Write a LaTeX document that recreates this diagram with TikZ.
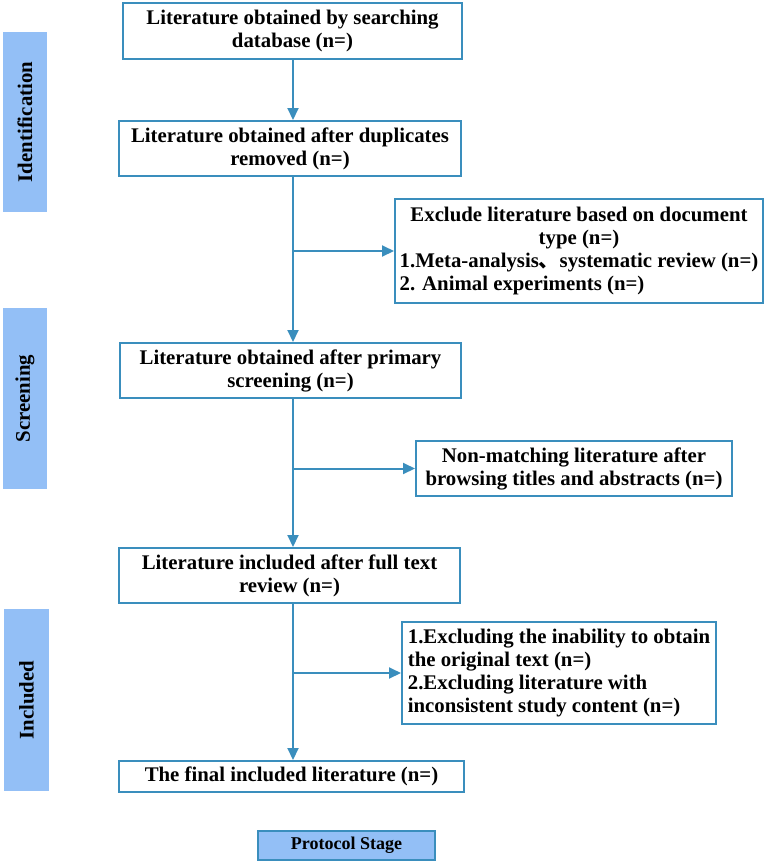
\documentclass[tikz,border=0pt]{standalone}
\usepackage{fontspec}
\setmainfont{Liberation Serif}
\newfontfamily\cjk{Noto Sans CJK SC}
\usetikzlibrary{arrows.meta}
\definecolor{lineblue}{HTML}{3A8EBD}
\definecolor{labelblue}{HTML}{93BFF6}
\begin{document}
\begin{tikzpicture}[x=1pt,y=-1pt,
  every node/.style={font=\fontsize{20.8}{23}\selectfont\bfseries, inner sep=3pt},
  box/.style={draw=lineblue, line width=2pt, fill=white, align=center},
  stagelabel/.style={fill=labelblue, rotate=90, minimum height=44pt},
  arr/.style={draw=lineblue, line width=2pt, -{Triangle[length=12pt,width=11pt]}},
  plain/.style={draw=lineblue, line width=2pt}
]
\useasboundingbox (0,0) rectangle (767,863);

% stage labels
\node[stagelabel, minimum width=180pt] (lid) at (25,122) {Identification};
\node[stagelabel, minimum width=181pt] (lsc) at (25,398.5) {Screening};
\node[stagelabel, minimum width=182pt, minimum height=45pt] (lin) at (26.5,700) {Included};

% main boxes
\node[box, minimum width=339pt, minimum height=56pt] (n1) at (292.5,31)
  {Literature obtained by searching\\database (n=)};
\node[box, minimum width=342pt, minimum height=55pt] (n2) at (290,148.5)
  {Literature obtained after duplicates\\removed (n=)};
\node[box, minimum width=341pt, minimum height=55pt] (n3) at (290.5,370.5)
  {Literature obtained after primary\\screening (n=)};
\node[box, minimum width=341pt, minimum height=55pt] (n4) at (289.5,575.5)
  {Literature included after full text\\review (n=)};
\node[box, minimum width=345pt, minimum height=31pt] (n5) at (291.5,776.5)
  {The final included literature (n=)};

% side boxes
\node[box, minimum width=368pt, minimum height=104pt, inner sep=2pt] (e1) at (579,251)
  {\begin{tabular}{@{}l@{}}
   \multicolumn{1}{@{}c@{}}{Exclude literature based on document}\\
   \multicolumn{1}{@{}c@{}}{type (n=)}\\
   1.Meta-analysis{\cjk 、}systematic review (n=)\\
   2. Animal experiments (n=)
   \end{tabular}};
\node[box, minimum width=316pt, minimum height=55pt] (e2) at (574,468.5)
  {Non-matching literature after\\browsing titles and abstracts (n=)};
\node[box, minimum width=314pt, minimum height=102pt, align=left] (e3) at (559,673)
  {1.Excluding the inability to obtain\\the original text (n=)\\2.Excluding literature with\\inconsistent study content (n=)};

% legend
\node[draw=lineblue, line width=2pt, fill=labelblue, minimum width=177pt, minimum height=29pt,
  font=\fontsize{18}{20}\selectfont\bfseries] (leg) at (346.5,845.5) {Protocol Stage};

% spine
\coordinate (spine) at (293,0);
\coordinate (j1) at (spine |- e1.west);
\coordinate (j2) at (spine |- e2.west);
\coordinate (j3) at (spine |- e3.west);

\draw[arr] (n1.south -| spine) -- (n2.north -| spine);
\draw[arr] (n2.south -| spine) -- (n3.north -| spine);
\draw[arr] (j1) -- (e1.west);
\draw[arr] (n3.south -| spine) -- (n4.north -| spine);
\draw[arr] (j2) -- (e2.west);
\draw[arr] (n4.south -| spine) -- (n5.north -| spine);
\draw[arr] (j3) -- (e3.west);
\end{tikzpicture}
\end{document}
